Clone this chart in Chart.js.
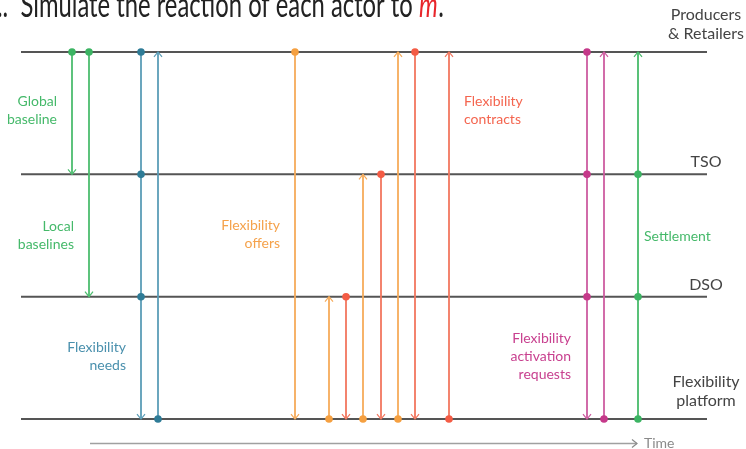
<!DOCTYPE html>
<html>
<head>
<meta charset="utf-8">
<script src="https://cdn.jsdelivr.net/npm/chart.js@4.4.1/dist/chart.umd.min.js"></script>
<style>
html,body{margin:0;padding:0;background:#fff;}
#wrap{width:746px;height:449px;position:relative;}
</style>
</head>
<body>
<div id="wrap"><canvas id="c" width="746" height="449"></canvas></div>
<script>
// Actors (levels on the vertical axis)
const actors = ['Flexibility\nplatform', 'DSO', 'TSO', 'Producers\n& Retailers'];
// Messages: time, sending actor level, receiving actor level, kind, relay levels with dots
const msgTime  = [72, 89, 141, 158, 295, 329, 346, 363, 381, 398, 415, 449, 587, 604, 638];
const msgFrom  = [3, 3, 3, 0, 3, 0, 1, 0, 2, 0, 3, 0, 3, 0, 0];
const msgTo    = [2, 1, 0, 3, 0, 1, 0, 2, 0, 3, 0, 3, 0, 3, 3];
const msgKind  = ['baseline','baseline','needs','needs','offers','offers','contracts','offers','contracts','offers','contracts','contracts','activation','activation','settlement'];
const msgRelay = [[],[],[2,1],[],[],[],[],[],[],[],[],[],[2,1],[],[1,2]];
// Time span of actor lifelines and time axis
const lifeStart = 21, lifeEnd = 707;
const timeAxisStart = 90, timeAxisEnd = 637;

const kindStyle = {
  baseline:   {line:'#4dbd6f', dot:'#3cb463'},
  needs:      {line:'#5b9db7', dot:'#2f7c97'},
  offers:     {line:'#f6ab5a', dot:'#f5a041'},
  contracts:  {line:'#f2775f', dot:'#f45c45'},
  activation: {line:'#cd5ca0', dot:'#c5398a'},
  settlement: {line:'#47bb6a', dot:'#3cb463'}
};

const datasets = [];
msgTime.forEach((t, i) => {
  const from = msgFrom[i], to = msgTo[i];
  const step = to > from ? 1 : -1;
  const pts = [];
  for (let l = from; l !== to + step; l += step) pts.push({x: t, y: l});
  const st = kindStyle[msgKind[i]];
  datasets.push({
    data: pts,
    showLine: true,
    borderColor: st.line,
    borderWidth: 1.8,
    pointBackgroundColor: st.dot,
    pointBorderColor: st.dot,
    pointBorderWidth: 0,
    pointRadius: pts.map(p => (p.y === from || msgRelay[i].includes(p.y)) ? 3.8 : 0),
    arrow: true,
    arrowColor: st.line,
    order: 0
  });
});
actors.forEach((a, l) => {
  datasets.push({
    data: [{x: lifeStart, y: l}, {x: lifeEnd, y: l}],
    showLine: true, borderColor: '#555555', borderWidth: 2, pointRadius: 0, order: 2
  });
});
// time axis
datasets.push({
  data: [{x: timeAxisStart, y: -0.2}, {x: timeAxisEnd, y: -0.2}],
  showLine: true, borderColor: '#a0a0a0', borderWidth: 1.3, pointRadius: 0,
  arrow: true, arrowColor: '#8a8a8a', order: 2
});

const labels = [
  {text:['Global','baseline'], x:57, y:2.52, align:'right', color:'#45b96a'},
  {text:['Local','baselines'], x:74, y:1.5, align:'right', color:'#45b96a'},
  {text:['Flexibility','needs'], x:126, y:0.51, align:'right', color:'#4a90ad'},
  {text:['Flexibility','offers'], x:280, y:1.51, align:'right', color:'#f5a24b'},
  {text:['Flexibility','contracts'], x:464, y:2.52, align:'left', color:'#f4654f'},
  {text:['Flexibility','activation','requests'], x:571, y:0.51, align:'right', color:'#c8408f'},
  {text:['Settlement'], x:644, y:1.49, align:'left', color:'#45b96a'}
];

const arrowPlugin = {
  id: 'arrows',
  afterDatasetsDraw(chart) {
    const ctx = chart.ctx;
    chart.data.datasets.forEach((ds, i) => {
      if (!ds.arrow) return;
      const meta = chart.getDatasetMeta(i);
      const n = meta.data.length;
      const tip = meta.data[n - 1], prev = meta.data[n - 2];
      const dx = tip.x - prev.x, dy = tip.y - prev.y;
      const len = Math.hypot(dx, dy);
      const ux = dx / len, uy = dy / len;
      const s = 5, w = 4;
      ctx.save();
      ctx.strokeStyle = ds.arrowColor;
      ctx.lineWidth = 1.2;
      ctx.beginPath();
      ctx.moveTo(tip.x - ux * s - uy * w, tip.y - uy * s + ux * w);
      ctx.lineTo(tip.x, tip.y);
      ctx.lineTo(tip.x - ux * s + uy * w, tip.y - uy * s - ux * w);
      ctx.stroke();
      ctx.restore();
    });
  }
};

const textPlugin = {
  id: 'texts',
  afterDraw(chart) {
    const ctx = chart.ctx;
    const xs = chart.scales.x, ys = chart.scales.y;
    ctx.save();
    ctx.textBaseline = 'middle';
    // message labels
    ctx.font = '14px Lato';
    labels.forEach(lb => {
      ctx.fillStyle = lb.color;
      ctx.textAlign = lb.align;
      const cy = ys.getPixelForValue(lb.y);
      const lh = 18;
      lb.text.forEach((t, k) => {
        ctx.fillText(t, xs.getPixelForValue(lb.x), cy + (k - (lb.text.length - 1) / 2) * lh);
      });
    });
    // actor names
    ctx.fillStyle = '#444';
    ctx.textAlign = 'center';
    actors.forEach((a, l) => {
      const lines = a.split('\n');
      const base = ys.getPixelForValue(l);
      const big = lines.length === 1;
      ctx.font = '16px Lato';
      const lh = 19;
      lines.forEach((t, k) => {
        const yy = base - (big ? 12 : 18) - (lines.length - 1 - k) * lh;
        ctx.fillText(t, xs.getPixelForValue(lifeEnd) - 1, yy);
      });
    });
    // time label
    ctx.fillStyle = '#8a8a8a';
    ctx.textAlign = 'left';
    ctx.font = '14px Lato';
    ctx.fillText('Time', 644, ys.getPixelForValue(-0.2));
    // title (cropped at top)
    ctx.textBaseline = 'alphabetic';
    const sx = 0.7;
    ctx.scale(sx, 1);
    ctx.fillStyle = '#222';
    ctx.font = '34px Lato';
    let x = -3 / sx;
    const part1 = '..  Simulate the reaction of each actor to ';
    ctx.fillText(part1, x, 17);
    x += ctx.measureText(part1).width;
    ctx.fillStyle = '#e8262b';
    ctx.font = 'italic 34px Lato';
    ctx.fillText('m', x, 17);
    x += ctx.measureText('m').width;
    ctx.fillStyle = '#222';
    ctx.font = '34px Lato';
    ctx.fillText('.', x + 1, 17);
    ctx.restore();
  }
};

new Chart(document.getElementById('c'), {
  type: 'scatter',
  data: {datasets},
  options: {
    responsive: false,
    animation: false,
    layout: {padding: 0, autoPadding: false},
    plugins: {legend: {display: false}, tooltip: {enabled: false}},
    scales: {
      x: {type: 'linear', min: 0, max: 746, display: false},
      y: {type: 'linear', min: -0.245, max: 3.425, display: false}
    },
    elements: {line: {tension: 0}}
  },
  plugins: [arrowPlugin, textPlugin]
});
</script>
</body>
</html>
